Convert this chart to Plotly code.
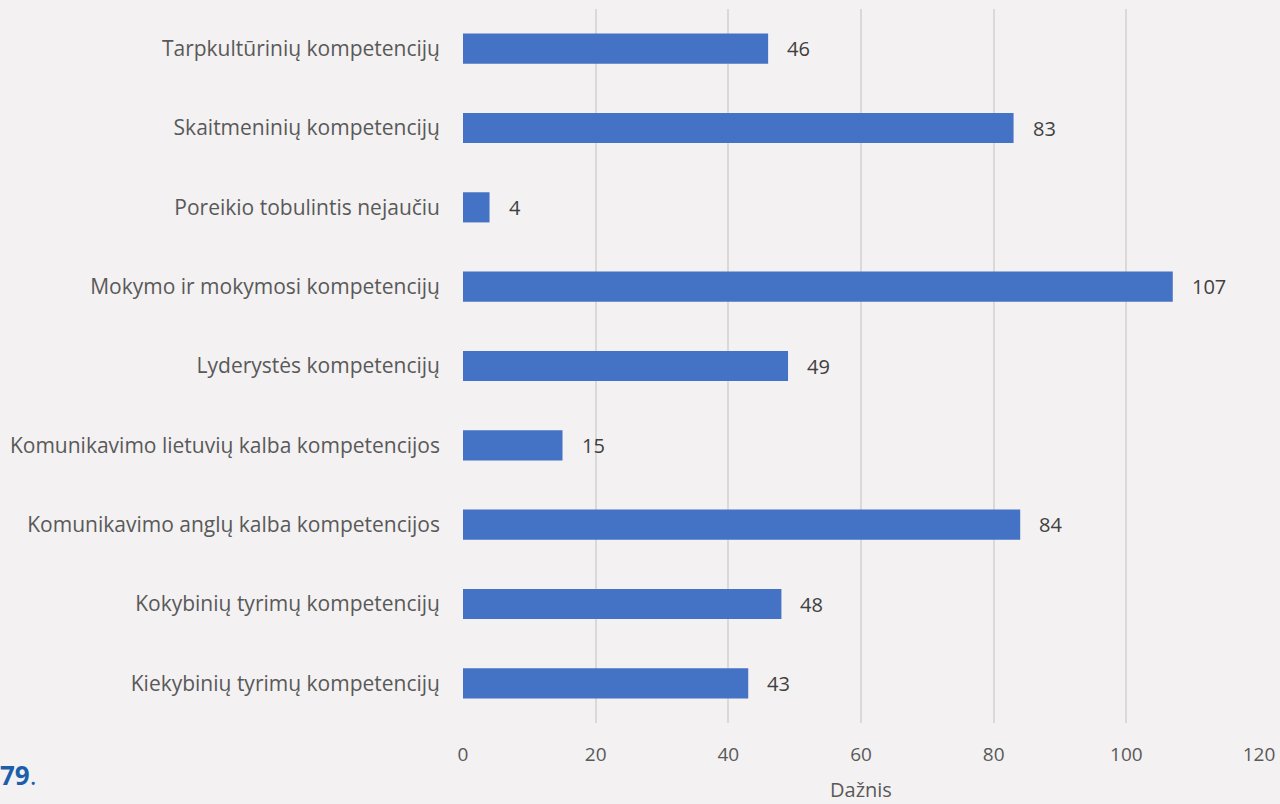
import plotly.graph_objects as go

categories = [
    "Kiekybinių tyrimų kompetencijų",
    "Kokybinių tyrimų kompetencijų",
    "Komunikavimo anglų kalba kompetencijos",
    "Komunikavimo lietuvių kalba kompetencijos",
    "Lyderystės kompetencijų",
    "Mokymo ir mokymosi kompetencijų",
    "Poreikio tobulintis nejaučiu",
    "Skaitmeninių kompetencijų",
    "Tarpkultūrinių kompetencijų",
]
values = [43, 48, 84, 15, 49, 107, 4, 83, 46]
x_ticks = [0, 20, 40, 60, 80, 100, 120]
x_title = "Dažnis"

bg = "#F3F1F2"
fig = go.Figure(go.Bar(
    y=categories, x=values, orientation="h",
    marker=dict(color="#4472C4", line=dict(width=0)),
    width=0.38,
    hoverinfo="x+y",
))

annotations = [
    dict(x=v, y=c, xref="x", yref="y", text=str(v), showarrow=False,
         xanchor="left", yanchor="middle", xshift=17,
         font=dict(family="Open Sans", size=20, color="#404040"))
    for c, v in zip(categories, values)
]
annotations.append(dict(text="<b>79</b>.", xref="paper", yref="paper",
                        x=-463/796, y=0, xanchor="left", yanchor="middle",
                        xshift=-2, yshift=-52, showarrow=False,
                        font=dict(family="Open Sans", size=26, color="#1B5FAA")))
annotations.append(dict(text=x_title, xref="paper", yref="paper",
                        x=0.5, y=0, xanchor="center", yanchor="middle",
                        yshift=-66, showarrow=False,
                        font=dict(family="Open Sans", size=20, color="#595959")))

fig.update_layout(
    width=1280, height=804,
    paper_bgcolor=bg, plot_bgcolor=bg,
    margin=dict(l=463, r=21, t=9, b=81),
    font=dict(family="Open Sans", size=20, color="#595959"),
    showlegend=False,
    xaxis=dict(range=[0, 120], tickvals=x_ticks, showgrid=True,
               gridcolor="#D9D9D9", gridwidth=1.5, zeroline=False,
               showline=False, ticks="", ticklen=0, automargin=False,
               ticklabelstandoff=18,
               tickfont=dict(size=19, color="#595959")),
    yaxis=dict(showgrid=False, zeroline=False, showline=False, ticks="",
               automargin=False,
               ticklabelstandoff=22,
               tickfont=dict(size=21, color="#595959")),
    annotations=annotations,
)
fig.write_html("out.html", config={"displayModeBar": False},
               post_script="document.body.style.margin='0';document.body.style.overflow='hidden';")
